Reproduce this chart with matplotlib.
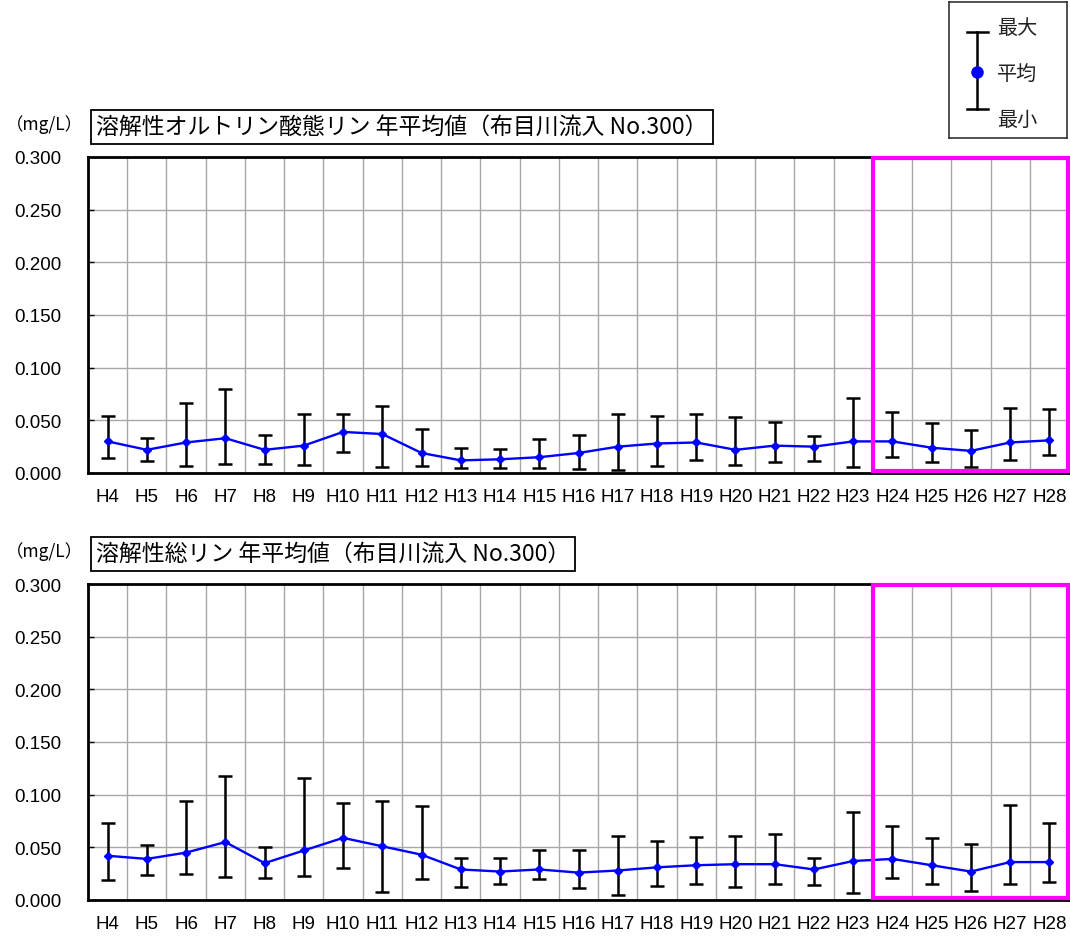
import numpy as np
import matplotlib
matplotlib.use('Agg')
import matplotlib.pyplot as plt
from matplotlib.patches import Rectangle

years = ['H4', 'H5', 'H6', 'H7', 'H8', 'H9', 'H10', 'H11', 'H12', 'H13', 'H14', 'H15', 'H16',
         'H17', 'H18', 'H19', 'H20', 'H21', 'H22', 'H23', 'H24', 'H25', 'H26', 'H27', 'H28']

# 溶解性オルトリン酸態リン
po4_mean = [0.030, 0.022, 0.029, 0.033, 0.022, 0.026, 0.039, 0.037, 0.019, 0.012, 0.013, 0.015, 0.019,
            0.025, 0.028, 0.029, 0.022, 0.026, 0.025, 0.030, 0.030, 0.024, 0.021, 0.029, 0.031]
po4_max = [0.054, 0.033, 0.066, 0.080, 0.036, 0.056, 0.056, 0.064, 0.042, 0.024, 0.023, 0.032, 0.036,
           0.056, 0.054, 0.056, 0.053, 0.048, 0.035, 0.071, 0.058, 0.047, 0.041, 0.062, 0.061]
po4_min = [0.014, 0.011, 0.007, 0.009, 0.009, 0.008, 0.020, 0.006, 0.007, 0.005, 0.005, 0.005, 0.004,
           0.003, 0.007, 0.012, 0.008, 0.010, 0.011, 0.006, 0.015, 0.010, 0.006, 0.012, 0.017]

# 溶解性総リン
tp_mean = [0.042, 0.039, 0.045, 0.055, 0.035, 0.047, 0.059, 0.051, 0.043, 0.029, 0.027, 0.029, 0.026,
           0.028, 0.031, 0.033, 0.034, 0.034, 0.029, 0.037, 0.039, 0.033, 0.027, 0.036, 0.036]
tp_max = [0.073, 0.052, 0.094, 0.118, 0.050, 0.116, 0.092, 0.094, 0.089, 0.040, 0.040, 0.047, 0.047,
          0.061, 0.056, 0.060, 0.061, 0.063, 0.040, 0.084, 0.070, 0.059, 0.053, 0.090, 0.073]
tp_min = [0.019, 0.024, 0.025, 0.022, 0.021, 0.023, 0.030, 0.008, 0.020, 0.012, 0.015, 0.020, 0.011,
          0.005, 0.013, 0.015, 0.012, 0.015, 0.014, 0.007, 0.021, 0.015, 0.009, 0.015, 0.017]

title1 = '溶解性オルトリン酸態リン 年平均値（布目川流入 No.300）'
title2 = '溶解性総リン 年平均値（布目川流入 No.300）'

jp = ['Noto Sans CJK JP', 'DejaVu Sans']
plt.rcParams['font.family'] = ['Liberation Sans', 'DejaVu Sans']

W, H = 1070, 937
fig = plt.figure(figsize=(W / 100, H / 100), dpi=100)


def px(x, y, w, h):
    # pixel box (top-left origin) -> figure fraction
    return [x / W, 1 - (y + h) / H, w / W, h / H]


def draw_panel(top, mean, vmax, vmin, title):
    ax = fig.add_axes(px(88, top, 981, 316))
    x = np.arange(len(years))
    mean = np.array(mean)
    lo = mean - np.array(vmin)
    hi = np.array(vmax) - mean
    ax.errorbar(x, mean, yerr=[lo, hi], fmt='none', ecolor='black',
                elinewidth=1.8, capsize=5, capthick=1.8, zorder=3)
    ax.plot(x, mean, color='blue', lw=1.7, marker='D', ms=4, zorder=4)

    ax.set_xlim(-0.5, len(years) - 0.5)
    ax.set_ylim(0, 0.3)
    ax.set_yticks(np.arange(0, 0.301, 0.05))
    ax.set_yticklabels(['%.3f' % v for v in np.arange(0, 0.301, 0.05)])
    ax.set_xticks(x)
    ax.set_xticklabels(years)
    ax.set_xticks(x[:-1] + 0.5, minor=True)
    ax.tick_params(axis='x', which='both', length=0, pad=11, labelsize=13.5)
    ax.tick_params(axis='y', direction='in', length=4, width=1, pad=19, labelsize=13.5)
    ax.grid(axis='y', which='major', color='#a8a8a8', lw=1)
    ax.grid(axis='x', which='minor', color='#a8a8a8', lw=1)
    ax.set_axisbelow(True)
    for s in ax.spines.values():
        s.set_linewidth(2)
        s.set_color('black')

    # highlight H24-H28
    ax.add_patch(Rectangle((19.5, 0.002), 4.97, 0.297, fill=False,
                           edgecolor='#ff00ff', lw=3, zorder=5, clip_on=False))

    fig.text(6 / W, 1 - (top - 33) / H, '（mg/L）', family=jp, fontsize=12.5,
             va='center', ha='left')
    fig.text(96 / W, 1 - (top - 30) / H, title, family=jp, fontsize=16.5,
             va='center', ha='left',
             bbox=dict(boxstyle='square,pad=0.22', fc='white', ec='black', lw=1.3))
    return ax


draw_panel(158, po4_mean, po4_max, po4_min, title1)
draw_panel(585, tp_mean, tp_max, tp_min, title2)

# legend box
lg = fig.add_axes(px(949, 3, 118, 136))
lg.set_xlim(0, 118)
lg.set_ylim(136, 0)
lg.set_xticks([])
lg.set_yticks([])
for s in lg.spines.values():
    s.set_linewidth(1.2)
    s.set_color('#333333')
lg.plot([28, 28], [30, 107], color='black', lw=1.8)
lg.plot([18, 39], [30, 30], color='black', lw=1.8)
lg.plot([18, 39], [107, 107], color='black', lw=1.8)
lg.plot([28], [70], 'o', color='blue', ms=8)
for txt, yy in [('最大', 25), ('平均', 71), ('最小', 117)]:
    lg.text(48, yy, txt, family=jp, fontsize=14.5, va='center', ha='left', color='#222222')

fig.savefig('out.png', dpi=100)
